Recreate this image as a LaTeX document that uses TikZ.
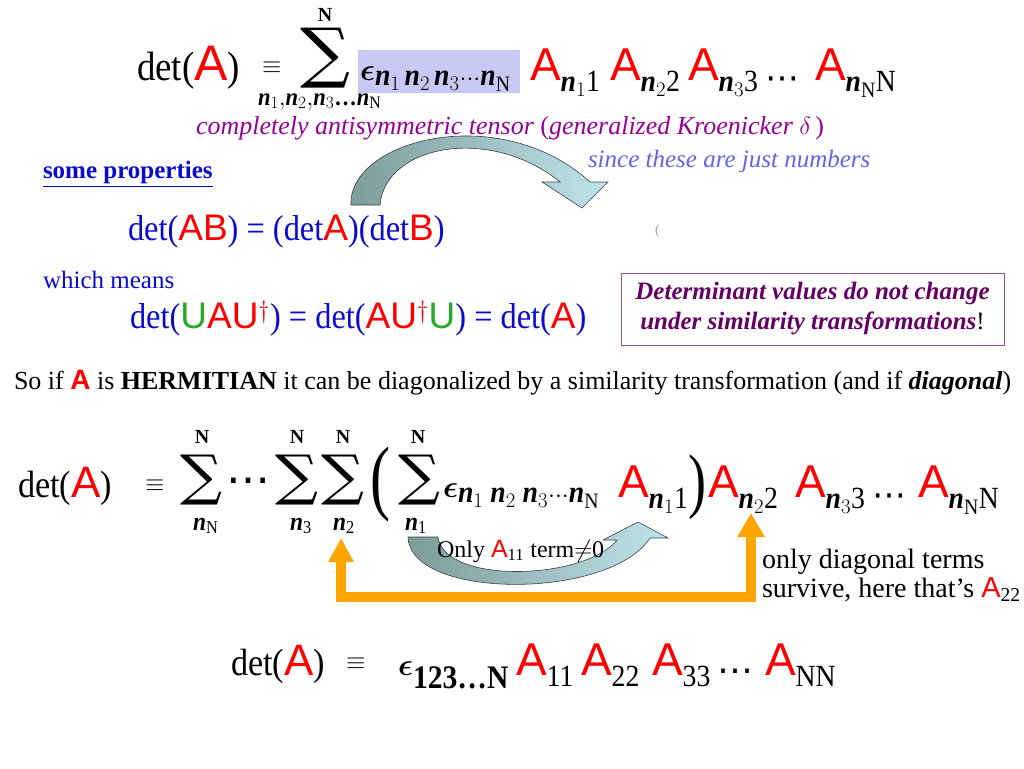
\documentclass[tikz,border=0pt]{standalone}
\usepackage{fontspec}
\usepackage{amsmath,amssymb,graphicx}
\usetikzlibrary{arrows.meta}
\setmainfont{Liberation Serif}
\setsansfont{Liberation Sans}
\newfontfamily\cs{Liberation Serif}[FakeStretch=0.9]
\newfontfamily\dvs{DejaVu Serif}
\newfontfamily\dvsans{DejaVu Sans}
\definecolor{tblue}{RGB}{10,10,210}
\definecolor{tgreen}{RGB}{40,170,40}
\definecolor{tpurple}{RGB}{150,0,150}
\definecolor{dpurple}{RGB}{100,0,100}
\definecolor{bxc}{RGB}{140,80,140}
\definecolor{lblue}{RGB}{100,100,225}
\definecolor{hl}{RGB}{200,200,245}
\definecolor{orng}{RGB}{255,165,0}
\definecolor{arL}{RGB}{125,155,155}
\definecolor{arR}{RGB}{190,228,235}
\newcommand\RL[2]{{\color{red}\fontsize{#1}{#1}\selectfont\sffamily #2}}
\newcommand\GL[2]{{\color{tgreen}\fontsize{#1}{#1}\selectfont\sffamily #2}}
\newcommand\bn{\text{\bfseries\itshape n}}
\newcommand\T[1]{\text{#1}}
\newcommand\bigsum[2]{\resizebox*{#1pt}{#2pt}{\dvs ∑}}
\newcommand\beps{\scalebox{1.25}{$\boldsymbol{\epsilon}$}}
\newcommand\Aterm[2]{\fontsize{44}{44}\cs\RL{46}{A}$_{#2}$}
\tikzset{
  txt/.style={anchor=base west, inner sep=0pt, outer sep=0pt},
  lim/.style={anchor=base, inner sep=0pt, font=\fontsize{20}{20}\selectfont\bfseries},
  sumn/.style={anchor=north west, inner sep=0pt},
  curvy/.style={draw=black!75, line width=0.6pt, left color=arL, right color=arR},
}
\begin{document}
\begin{tikzpicture}[x=1pt,y=-1pt]
\useasboundingbox (0,0) rectangle (1024,768);
\fill[white] (0,0) rectangle (1024,768);

% ---------- line 1 ----------
\node[txt] (det1) at (137,80) {\fontsize{41}{41}\cs det(\RL{50}{A})};
\node[txt] (eq1) at (262,74) {\fontsize{26}{26}\selectfont$\equiv$};
\node[sumn] (S1) at (300,28) {\bigsum{50}{60}};
\node[lim] (S1t) at (325,22) {N};
\node[txt] (S1b) at (258,105) {\fontsize{25}{25}\cs $\bn_1{,}\bn_2{,}\bn_3\textbf{\ldots}\bn_{\T{N}}$};
\fill[hl] (358,50) rectangle (520,93);
\node[txt] (eps1) at (360,80) {\fontsize{44}{44}\cs \beps$_{\bn_1\,\bn_2\,\bn_3\cdots\bn_{\T{N}}}$};
\node[txt] (a11) at (530,80) {\Aterm{46}{\bn_1\T{1}}};
\node[txt] (a12) at (610,80) {\Aterm{46}{\bn_2\T{2}}};
\node[txt] (a13) at (688,80) {\Aterm{46}{\bn_3\T{3}}};
\node[txt] (d1) at (765,89) {\fontsize{34}{34}\dvsans ⋯};
\node[txt] (a1N) at (815,80) {\Aterm{46}{\bn_{\T{N}}\T{N}}};
\node[txt] (anti) at (196,134) {\fontsize{26}{26}\selectfont\color{tpurple}\itshape completely antisymmetric tensor {\upshape(}generalized Kroenicker $\delta${\upshape\,)}};
\node[txt] (since) at (588,167) {\fontsize{25}{25}\selectfont\color{lblue}\itshape since these are just numbers};
\node[txt] (props) at (43,178) {\fontsize{25}{25}\selectfont\color{tblue}\bfseries\underline{some properties}};

% curved arrow 1
\path[curvy] (351,205) .. controls (348,140) and (500,100) .. (590,182) -- (608,182) -- (582,208) -- (542,182) -- (560,182) .. controls (490,125) and (385,145) .. (380,205) -- cycle;

% ---------- blue lines ----------
\node[txt] (ab) at (128,240) {\fontsize{36}{36}\cs\color{tblue} det(\RL{37}{AB}) = (det\RL{37}{A})(det\RL{37}{B})};
\node[txt] (mark) at (655,234) {\fontsize{14}{14}\selectfont\color{black!35}(};
\node[txt] (which) at (43,288) {\fontsize{25}{25}\selectfont\color{tblue} which means};
\node[txt] (uau) at (130,328) {\fontsize{36}{36}\cs\color{tblue} det(\GL{37}{U}\RL{37}{AU}$^{\color{red}\dagger}$) = det(\RL{37}{AU}$^{\color{red}\dagger}$\GL{37}{U}) = det(\RL{37}{A})};
\node[draw=bxc, line width=0.9pt, minimum width=383pt, minimum height=72pt, inner sep=0pt, align=center,
      font=\fontsize{25}{30}\selectfont\bfseries\itshape, text=dpurple] (box) at (812.5,309)
      {Determinant values do not change\\under similarity transformations{\upshape\mdseries\color{black}!}};

\node[txt] (soif) at (14,389) {\fontsize{26}{26}\selectfont So if \RL{28}{\bfseries A} is \textbf{HERMITIAN} it can be diagonalized by a similarity transformation (and if \textbf{\textit{diagonal}})};

% ---------- line 2 ----------
\node[txt] (det2) at (18,497) {\fontsize{38}{38}\cs det(\RL{44}{A})};
\node[txt] (eq2) at (145,491) {\fontsize{24}{24}\selectfont$\equiv$};
\node[sumn] (S2a) at (180,455) {\bigsum{42}{50}};
\node[lim] (S2at) at (202,443) {N};
\node[txt] (S2ab) at (193,530) {\fontsize{26}{26}\cs $\bn_{\T{N}}$};
\node[txt] (dots2) at (226,494) {\fontsize{44}{44}\dvsans ⋯};
\node[sumn] (S2b) at (275,455) {\bigsum{43}{50}};
\node[lim] (S2bt) at (297,443) {N};
\node[txt] (S2bb) at (290,530) {\fontsize{26}{26}\cs $\bn_{\T{3}}$};
\node[sumn] (S2c) at (321,455) {\bigsum{43}{50}};
\node[lim] (S2ct) at (343,443) {N};
\node[txt] (S2cb) at (333,530) {\fontsize{26}{26}\cs $\bn_{\T{2}}$};
\node[sumn] (lp) at (370,447) {\resizebox*{20pt}{75pt}{\cs (}};
\node[sumn] (S2d) at (398,455) {\bigsum{42}{50}};
\node[lim] (S2dt) at (418,443) {N};
\node[txt] (S2db) at (405,530) {\fontsize{26}{26}\cs $\bn_{\T{1}}$};
\node[txt] (eps2) at (443,497) {\fontsize{44}{44}\cs \beps$_{\bn_1\;\bn_2\;\bn_3\cdots\bn_{\T{N}}}$};
\node[txt] (an1) at (618,497) {\Aterm{46}{\bn_1\T{1}}};
\node[sumn] (rp) at (688,455) {\resizebox*{18pt}{65pt}{\cs )}};
\node[txt] (a22) at (708,497) {\Aterm{46}{\bn_2\T{2}}};
\node[txt] (a23) at (795,497) {\Aterm{46}{\bn_3\T{3}}};
\node[txt] (d2) at (872,506) {\fontsize{34}{34}\dvsans ⋯};
\node[txt] (a2N) at (918,497) {\Aterm{46}{\bn_{\T{N}}\T{N}}};

% curved arrow 2
\path[curvy] (408,537) .. controls (410,600) and (610,600) .. (650,538) -- (668,538) -- (638,522) -- (603,540) -- (617,540) .. controls (585,580) and (445,585) .. (438,537) -- cycle;
\node[txt] (only) at (437,557) {\fontsize{24}{24}\selectfont Only \RL{25}{A}$_{\T{11}}$ term$\neq$0};

% orange arrows
\coordinate (oL) at (341,538);
\coordinate (oR) at (751,513);
\draw[orng, line width=10pt, line join=miter, {Triangle[width=24pt,length=24pt]}-{Triangle[width=26pt,length=24pt]}] (oL) -- (341,597) -- (751,597) -- (oR);
\node[txt] (diag1) at (762,568) {\fontsize{28}{28}\selectfont only diagonal terms};
\node[txt] (diag2) at (762,597) {\fontsize{28}{28}\selectfont survive, here that’s \RL{29}{A}$_{\T{22}}$};

% ---------- last line ----------
\node[txt] (det3) at (231,675) {\fontsize{38}{38}\cs det(\RL{44}{A})};
\node[txt] (eq3) at (346,669) {\fontsize{24}{24}\selectfont$\equiv$};
\node[txt] (eps3) at (398,675) {\fontsize{47}{47}\cs \beps$_{\textbf{123\ldots N}}$};
\node[txt] (a31) at (516,675) {\Aterm{46}{\T{11}}};
\node[txt] (a32) at (581,675) {\Aterm{46}{\T{22}}};
\node[txt] (a33) at (652,675) {\Aterm{46}{\T{33}}};
\node[txt] (d3) at (717,682) {\fontsize{36}{36}\dvsans ⋯};
\node[txt] (a3N) at (765,675) {\Aterm{46}{\T{NN}}};
\end{tikzpicture}
\end{document}
